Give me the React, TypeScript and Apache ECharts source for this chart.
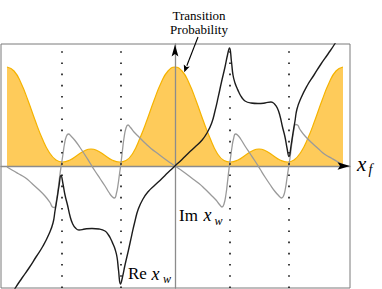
import React, { useEffect, useRef } from "react";
import * as echarts from "echarts";

// Axis extents (x_f horizontal, weak value / probability vertical)
const xRange = [-174, 175];
const yRange = [-122, 122];

// Positions of the dotted vertical guide lines
const dottedAt = [-113.5, -54.5, 54.5, 113.5];

// Transition probability (filled curve)
const transition: [number, number][] = [
  [-168, 99], [-161, 95], [-154, 83], [-147, 65.5], [-140, 46], [-133, 28], [-126, 14],
  [-119, 6], [-112.5, 4], [-105, 6], [-98, 10.5], [-91, 15], [-84, 17], [-77, 15],
  [-70, 10.5], [-63, 6], [-55.5, 4], [-49, 5.5], [-42, 13], [-35, 28], [-28, 46],
  [-21, 65.5], [-14, 83], [-7, 95], [0, 99], [7, 95], [14, 83], [21, 65.5], [28, 46],
  [35, 28], [42, 13], [49, 5.5], [55.5, 4], [63, 6], [70, 10.5], [77, 15], [84, 17],
  [91, 15], [98, 10.5], [105, 6], [112.5, 4], [119, 6], [126, 14], [133, 28], [140, 46],
  [147, 65.5], [154, 83], [161, 95], [168, 99],
];

// Im x_w (gray curve)
const imWeak: [number, number][] = [
  [-168, -1], [-163, -4], [-157, -7.5], [-150, -11.5], [-143, -17.5], [-137, -23], [-130, -30],
  [-125, -36.5], [-122.5, -41], [-120.5, -41.5], [-118.5, -34], [-116.5, -20], [-115, -8],
  [-113.5, 2], [-112, 12], [-110.5, 22], [-108.5, 30], [-106.5, 32], [-104, 30], [-100, 25.5],
  [-95, 18.5], [-90, 11], [-85, 3], [-80, -5], [-75, -12.5], [-70, -20], [-66, -26.5],
  [-62.5, -31], [-60.5, -32], [-58.5, -27], [-57, -19], [-55.5, -8], [-54, 3], [-52.5, 16],
  [-51, 28], [-49, 38], [-47, 41], [-44.5, 38.5], [-41, 34], [-36, 29], [-30, 23], [-24, 17.5],
  [-16, 11.5], [-8, 5.5], [0, 0], [8, -5.5], [16, -11.5], [24, -17.5], [30, -23], [36, -29],
  [41, -34], [44.5, -38.5], [47, -41], [49, -38], [51, -28], [52.5, -16], [54, -3], [55.5, 8],
  [57, 19], [58.5, 27], [60.5, 32], [62.5, 31], [66, 26.5], [70, 20], [75, 12.5], [80, 5],
  [85, -3], [90, -11], [95, -18.5], [100, -25.5], [104, -30], [106.5, -32], [108.5, -30],
  [110.5, -22], [112, -12], [113.5, -2], [115, 8], [116.5, 20], [118.5, 34], [120.5, 41.5],
  [122.5, 41], [125, 36.5], [130, 30], [137, 23], [143, 17.5], [150, 11.5], [157, 7.5],
  [163, 4], [168, 1],
];

// Re x_w (black curve)
const reWeak: [number, number][] = [
  [-166, -133], [-160, -122.5], [-153, -112], [-146, -102], [-139, -91], [-132, -80],
  [-126, -68], [-122, -57], [-120, -45], [-118, -33], [-116, -20], [-114, -9.5], [-112, -18],
  [-110, -29], [-107.5, -39], [-105, -50], [-102.5, -57.5], [-99.5, -62], [-96, -64],
  [-90, -63], [-83, -62.5], [-76, -63], [-70, -65], [-66.5, -69], [-64, -73.5], [-62, -78],
  [-60, -83], [-58, -91], [-56.5, -104], [-54.5, -118], [-52.5, -111], [-50, -99],
  [-46.5, -84], [-43.3, -69.3], [-40, -55], [-36.7, -43], [-32, -33], [-26.7, -25.5],
  [-20, -19], [-13.3, -12.7], [-7, -6.5], [0, 0], [7, 6.5], [13.3, 12.7], [20, 19],
  [26.7, 25.5], [32, 33], [36.7, 43], [40, 55], [43.3, 69.3], [46.5, 84], [50, 99],
  [52.5, 111], [54.5, 118], [56.5, 104], [58, 91], [60, 83], [62, 78], [64, 73.5],
  [66.5, 69], [70, 65], [76, 63], [83, 62.5], [90, 63], [96, 64], [99.5, 62], [102.5, 57.5],
  [105, 50], [107.5, 39], [110, 29], [112, 18], [114, 9.5], [116, 20], [118, 33], [120, 45],
  [122, 57], [126, 68], [132, 80], [139, 91], [146, 102], [153, 112], [160, 122.5], [166, 133],
];

const SERIF = "'Liberation Serif', 'Times New Roman', serif";

export default function App() {
  const ref = useRef<HTMLDivElement>(null);

  useEffect(() => {
    const chart = echarts.init(ref.current!, null, { renderer: "svg" });
    const axisCommon = {
      type: "value" as const,
      z: 2,
      axisLine: {
        show: true,
        onZero: true,
        lineStyle: { color: "#8c8c8c", width: 1.3 },
      },
      axisTick: { show: false },
      axisLabel: { show: false },
      splitLine: { show: false },
    };
    const lineCommon = {
      type: "line" as const,
      showSymbol: false,
      silent: true,
      smooth: 0.5,
    };
    chart.setOption({
      animation: false,
      grid: {
        left: 1,
        top: 44,
        width: 349,
        height: 244,
        show: true,
        borderColor: "#7a7a7a",
        borderWidth: 1,
        backgroundColor: "transparent",
      },
      xAxis: { ...axisCommon, min: xRange[0], max: xRange[1] },
      yAxis: { ...axisCommon, min: yRange[0], max: yRange[1] },
      series: [
        {
          ...lineCommon,
          data: transition,
          z: 1,
          lineStyle: { color: "#F5B301", width: 1.2 },
          areaStyle: { color: "#FECB5A", opacity: 1 },
        },
        {
          ...lineCommon,
          data: imWeak,
          z: 3,
          lineStyle: { color: "#9a9a9a", width: 1.3 },
        },
        {
          ...lineCommon,
          data: reWeak,
          z: 4,
          lineStyle: { color: "#1c1c1c", width: 1.4 },
          markLine: {
            silent: true,
            symbol: "none",
            label: { show: false },
            lineStyle: { color: "#111", type: [1.6, 9.6], width: 1.6 },
            data: dottedAt.map((v) => ({ xAxis: v })),
          },
        },
      ],
    });

    const xTip = chart.convertToPixel({ gridIndex: 0 }, [xRange[1], 0]) as number[];
    const yTip = chart.convertToPixel({ gridIndex: 0 }, [0, yRange[1]]) as number[];

    const txt = (
      x: number,
      y: number,
      text: string,
      size: number,
      italic = false,
      align = "left"
    ) => ({
      type: "text",
      x,
      y,
      z: 20,
      style: {
        text,
        fontFamily: SERIF,
        fontSize: size,
        fontStyle: italic ? "italic" : "normal",
        fill: "#000",
        textAlign: align,
        verticalAlign: "middle",
      },
    });

    chart.setOption({
      graphic: [
        {
          type: "polygon",
          z: 20,
          shape: {
            points: [
              [xTip[0], xTip[1]],
              [xTip[0] - 12.5, xTip[1] - 3.7],
              [xTip[0] - 10, xTip[1]],
              [xTip[0] - 12.5, xTip[1] + 3.7],
            ],
          },
          style: { fill: "#000" },
        },
        {
          type: "polygon",
          z: 20,
          shape: {
            points: [
              [yTip[0], yTip[1] + 0.5],
              [yTip[0] - 3.4, yTip[1] + 12.5],
              [yTip[0], yTip[1] + 10],
              [yTip[0] + 3.4, yTip[1] + 12.5],
            ],
          },
          style: { fill: "#000" },
        },
        // annotation arrow
        {
          type: "line",
          z: 20,
          shape: { x1: 198, y1: 37, x2: 186.8, y2: 65.8 },
          style: { stroke: "#000", lineWidth: 1.1 },
        },
        {
          type: "polygon",
          z: 20,
          shape: { points: [[184.3, 72.3], [189.8, 66.6], [186.6, 66.9], [183.8, 64.6]] },
          style: { fill: "#000" },
        },
        txt(199, 15.3, "Transition", 13, false, "center"),
        txt(199, 29.5, "Probability", 13, false, "center"),
        // Re x_w
        txt(128, 273.5, "Re", 17),
        txt(151.5, 273.5, "x", 18, true),
        txt(163, 278.5, "w", 12, true),
        // Im x_w
        txt(179, 215.4, "Im", 17),
        txt(203.5, 215.4, "x", 18, true),
        txt(214.5, 220.5, "w", 12, true),
        // x_f
        txt(357, 163.5, "x", 21, true),
        txt(368.5, 169.5, "f", 14, true),
      ],
    });

    return () => chart.dispose();
  }, []);

  return (
    <div
      ref={ref}
      style={{ position: "absolute", left: 0, top: 0, width: 382, height: 289 }}
    />
  );
}
